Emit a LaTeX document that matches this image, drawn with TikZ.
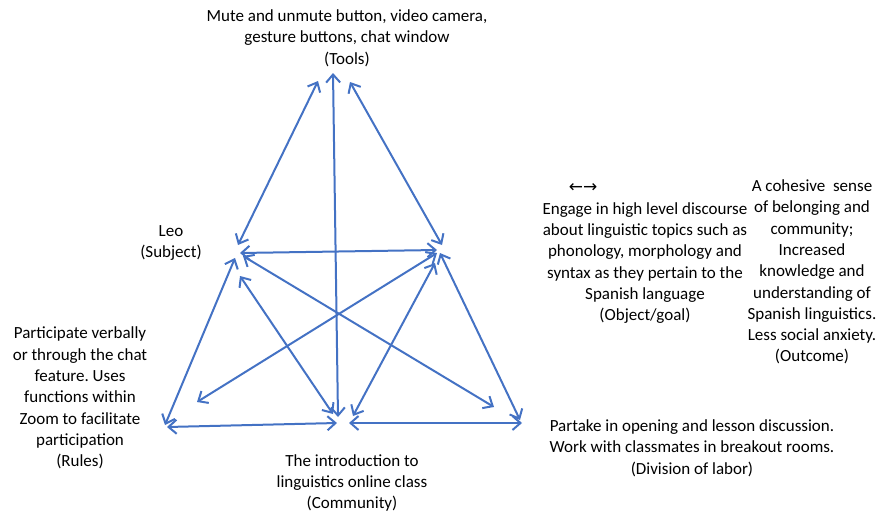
\documentclass[tikz,border=0pt]{standalone}
\usepackage{fontspec}
\setmainfont{Carlito}
\newfontfamily\symfont{DejaVu Sans}
\usetikzlibrary{arrows.meta}
\frenchspacing
\definecolor{linkblue}{RGB}{68,114,196}
\tikzset{
  lbl/.style={align=center, inner sep=0pt, text=black, font=\fontsize{17}{21.3}\selectfont},
  link/.style={draw=linkblue, line width=2pt, {Straight Barb[length=8pt,width=14pt,line width=2pt]}-{Straight Barb[length=8pt,width=14pt,line width=2pt]}}
}
\begin{document}
\begin{tikzpicture}[x=1pt,y=-1pt]
\useasboundingbox (0,0) rectangle (881,514);
% text nodes
\node[lbl] (tools) at (347,38) {Mute and unmute button,\ video camera,\\ gesture buttons,\ chat window\\ (Tools)};
\node[lbl] (subject) at (171,243) {Leo\\ (Subject)};
\node[lbl] (object) at (645,263) {Engage in high level discourse\\ about linguistic topics such as\\ phonology, morphology and\\ syntax as they pertain to the\\ Spanish language\\ (Object/goal)};
\node[lbl, font=\symfont\fontsize{17}{19}\selectfont] (arrowsym) at (583,188) {←→};
\node[lbl] (outcome) at (812,272) {A cohesive\ \ sense\\ of belonging and\\ community;\\ Increased\\ knowledge and\\ understanding of\\ Spanish linguistics.\\ Less social anxiety.\\ (Outcome)};
\node[lbl] (rules) at (80,398) {Participate verbally\\ or through the chat\\ feature. Uses\\ functions within\\ Zoom to facilitate\\ participation\\ (Rules)};
\node[lbl] (community) at (352,483) {The introduction to\\ linguistics online class\\ (Community)};
\node[lbl] (division) at (692,448) {Partake in opening and lesson discussion.\\ Work with classmates in breakout rooms.\\ (Division of labor)};
% connector end points
\coordinate (T1) at (318,81);
\coordinate (T2) at (350,82);
\coordinate (T3) at (333,73);
\coordinate (S1) at (238,245);
\coordinate (S2) at (240,253);
\coordinate (S3) at (235,258);
\coordinate (S4) at (240,276);
\coordinate (S5) at (243,256);
\coordinate (O1) at (442,245);
\coordinate (O2) at (437,250);
\coordinate (O3) at (437,253);
\coordinate (O4) at (435,263);
\coordinate (O5) at (440,253);
\coordinate (R1) at (165,425);
\coordinate (R2) at (197,402);
\coordinate (R3) at (167,427);
\coordinate (C1) at (338,417);
\coordinate (C2) at (333,414);
\coordinate (C3) at (353,416);
\coordinate (C4) at (337,423);
\coordinate (C5) at (349,423);
\coordinate (D1) at (494,407);
\coordinate (D2) at (520,420);
\coordinate (D3) at (522,423);
% connectors
\draw[link] (T1) -- (S1);
\draw[link] (T2) -- (O1);
\draw[link] (T3) -- (C1);
\draw[link] (S2) -- (O2);
\draw[link] (S3) -- (R1);
\draw[link] (S4) -- (C2);
\draw[link] (S5) -- (D1);
\draw[link] (O3) -- (R2);
\draw[link] (O4) -- (C3);
\draw[link] (O5) -- (D2);
\draw[link] (R3) -- (C4);
\draw[link] (C5) -- (D3);
\end{tikzpicture}
\end{document}
